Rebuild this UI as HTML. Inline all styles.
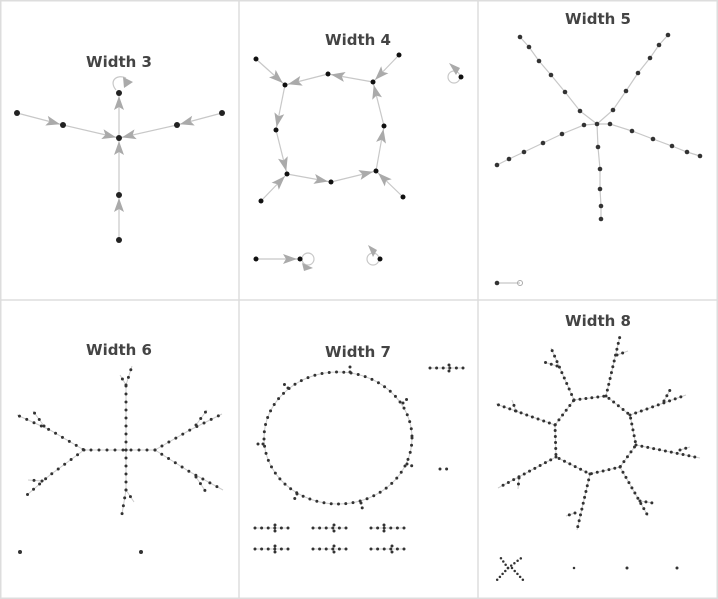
<!DOCTYPE html>
<html><head><meta charset="utf-8"><style>
html,body{margin:0;padding:0;background:#fff}
svg{display:block}
text{font-family:"DejaVu Sans","Liberation Sans",sans-serif;font-weight:bold;font-size:15px;fill:#444;text-anchor:middle}
.e{stroke:#c8c8c8;stroke-width:1.2;fill:none}
.a{stroke:#c8c8c8;stroke-width:1.2;fill:none;marker-end:url(#ar)}
.d{stroke:#333;stroke-width:3;stroke-linecap:round;stroke-dasharray:0 7;fill:none}
.l{stroke:#ccc;stroke-width:1;fill:none}
</style></head><body>
<svg width="718" height="599" viewBox="0 0 718 599" xmlns="http://www.w3.org/2000/svg">
<defs>
<marker id="ar" markerUnits="userSpaceOnUse" markerWidth="16" markerHeight="12" refX="17" refY="5" orient="auto" viewBox="0 0 16 10" overflow="visible">
<path d="M0,0 L14,5 L0,10 L3,5 Z" fill="#aaa"/>
</marker>
</defs>
<rect x="0" y="0" width="718" height="599" fill="#fff"/>
<g stroke="#ddd" stroke-width="1.5" fill="none">
<rect x="0.75" y="0.75" width="716.5" height="597.5"/>
<line x1="239" y1="0" x2="239" y2="599"/>
<line x1="478" y1="0" x2="478" y2="599"/>
<line x1="0" y1="300" x2="718" y2="300"/>
</g>

<!-- Width 3 -->
<text x="119" y="67">Width 3</text>
<line class="a" x1="17" y1="113" x2="63" y2="125"/>
<line class="a" x1="63" y1="125" x2="119" y2="138"/>
<line class="a" x1="222" y1="113" x2="177" y2="125"/>
<line class="a" x1="177" y1="125" x2="119" y2="138"/>
<line class="a" x1="119" y1="195" x2="119" y2="138"/>
<line class="a" x1="119" y1="240" x2="119" y2="195"/>
<line class="a" x1="119" y1="138" x2="119" y2="93"/>
<path class="e" d="M116,90 C108,80 118,74 126,78"/>
<path d="M123,77 L133,82 L124,88 Z" fill="#aaa"/>
<g fill="#222">
<circle cx="17" cy="113" r="3"/><circle cx="63" cy="125" r="3"/><circle cx="119" cy="138" r="3"/>
<circle cx="177" cy="125" r="3"/><circle cx="222" cy="113" r="3"/><circle cx="119" cy="93" r="3"/>
<circle cx="119" cy="195" r="3"/><circle cx="119" cy="240" r="3"/>
</g>

<!-- Width 4 -->
<text x="358" y="45">Width 4</text>
<line class="a" x1="256" y1="59" x2="285" y2="85"/>
<line class="a" x1="399" y1="55" x2="373" y2="82"/>
<line class="a" x1="403" y1="197" x2="376" y2="171"/>
<line class="a" x1="261" y1="201" x2="287" y2="174"/>
<line class="a" x1="285" y1="85" x2="276" y2="130"/>
<line class="a" x1="276" y1="130" x2="287" y2="174"/>
<line class="a" x1="287" y1="174" x2="331" y2="182"/>
<line class="a" x1="331" y1="182" x2="376" y2="171"/>
<line class="a" x1="376" y1="171" x2="384" y2="126"/>
<line class="a" x1="384" y1="126" x2="373" y2="82"/>
<line class="a" x1="373" y1="82" x2="328" y2="74"/>
<line class="a" x1="328" y1="74" x2="285" y2="85"/>
<line class="a" x1="256" y1="259" x2="300" y2="259"/>
<circle class="e" cx="454" cy="77" r="6"/>
<path d="M449,63 L460,68 L456,75 Z" fill="#aaa"/>
<circle class="e" cx="308" cy="259" r="6"/>
<path d="M302,263 L313,268 L304,271 Z" fill="#aaa"/>
<circle class="e" cx="373" cy="259" r="6"/>
<path d="M368,245 L377,250 L373,257 Z" fill="#aaa"/>
<g fill="#111">
<circle cx="256" cy="59" r="2.5"/><circle cx="285" cy="85" r="2.5"/><circle cx="328" cy="74" r="2.5"/>
<circle cx="373" cy="82" r="2.5"/><circle cx="399" cy="55" r="2.5"/><circle cx="384" cy="126" r="2.5"/>
<circle cx="376" cy="171" r="2.5"/><circle cx="403" cy="197" r="2.5"/><circle cx="331" cy="182" r="2.5"/>
<circle cx="287" cy="174" r="2.5"/><circle cx="261" cy="201" r="2.5"/><circle cx="276" cy="130" r="2.5"/>
<circle cx="461" cy="77" r="2.5"/><circle cx="256" cy="259" r="2.5"/><circle cx="300" cy="259" r="2.5"/>
<circle cx="380" cy="259" r="2.5"/>
</g>

<!-- Width 5 -->
<text x="598" y="24">Width 5</text>
<g class="e">
<polyline points="597,124 580,111 565,92 551,75 539,61 529,47 520,37"/>
<polyline points="597,124 613,110 626,91 638,73 650,58 659,45 668,35"/>
<polyline points="597,124 584,125 562,134 543,143 524,152 509,159 497,165"/>
<polyline points="597,124 610,124 632,131 653,139 672,146 687,152 700,156"/>
<polyline points="597,124 598,147 600,169 600,189 601,206 601,219"/>
<line x1="497" y1="283" x2="520" y2="283"/>
</g>
<g fill="#333">
<circle cx="580" cy="111" r="2.3"/><circle cx="565" cy="92" r="2.3"/><circle cx="551" cy="75" r="2.3"/><circle cx="539" cy="61" r="2.3"/><circle cx="529" cy="47" r="2.3"/><circle cx="520" cy="37" r="2.3"/>
<circle cx="613" cy="110" r="2.3"/><circle cx="626" cy="91" r="2.3"/><circle cx="638" cy="73" r="2.3"/><circle cx="650" cy="58" r="2.3"/><circle cx="659" cy="45" r="2.3"/><circle cx="668" cy="35" r="2.3"/>
<circle cx="584" cy="125" r="2.3"/><circle cx="562" cy="134" r="2.3"/><circle cx="543" cy="143" r="2.3"/><circle cx="524" cy="152" r="2.3"/><circle cx="509" cy="159" r="2.3"/><circle cx="497" cy="165" r="2.3"/>
<circle cx="610" cy="124" r="2.3"/><circle cx="632" cy="131" r="2.3"/><circle cx="653" cy="139" r="2.3"/><circle cx="672" cy="146" r="2.3"/><circle cx="687" cy="152" r="2.3"/><circle cx="700" cy="156" r="2.3"/>
<circle cx="597" cy="124" r="2.3"/><circle cx="598" cy="147" r="2.3"/><circle cx="600" cy="169" r="2.3"/><circle cx="600" cy="189" r="2.3"/><circle cx="601" cy="206" r="2.3"/><circle cx="601" cy="219" r="2.3"/>
<circle cx="497" cy="283" r="2.3"/>
</g>
<circle cx="520" cy="283" r="2.5" fill="none" stroke="#aaa"/>

<!-- Width 6 -->
<text x="119" y="355">Width 6</text>
<g class="l">
<polyline points="126,450 126,385 120,375"/><line x1="126" y1="385" x2="132" y2="366"/>
<polyline points="126,450 126,490 122,514"/><line x1="126" y1="490" x2="134" y2="502"/>
<polyline points="155,450 84,450 50,430 17,415"/><line x1="44" y1="426" x2="33" y2="411"/>
<polyline points="84,450 50,475 27,495"/><line x1="42" y1="481" x2="28" y2="480"/>
<polyline points="155,450 190,430 222,414"/><line x1="196" y1="425" x2="207" y2="410"/>
<polyline points="155,450 190,472 223,490"/><line x1="196" y1="477" x2="206" y2="492"/>
</g>
<g class="d" style="stroke-dasharray:0 8">
<polyline points="126,450 126,385 120,375"/><line x1="126" y1="385" x2="132" y2="366"/>
<polyline points="126,450 126,490 122,514"/><line x1="126" y1="490" x2="134" y2="502"/>
<polyline points="155,450 84,450 50,430 17,415"/><line x1="44" y1="426" x2="33" y2="411"/>
<polyline points="84,450 50,475 27,495"/><line x1="42" y1="481" x2="28" y2="480"/>
<polyline points="155,450 190,430 222,414"/><line x1="196" y1="425" x2="207" y2="410"/>
<polyline points="155,450 190,472 223,490"/><line x1="196" y1="477" x2="206" y2="492"/>
</g>
<circle cx="20" cy="552" r="2" fill="#333"/><circle cx="141" cy="552" r="2" fill="#333"/>

<!-- Width 7 -->
<text x="358" y="357">Width 7</text>
<ellipse class="l" cx="338" cy="438" rx="74" ry="66"/>
<ellipse class="d" cx="338" cy="438" rx="74" ry="66" style="stroke-dasharray:0 7.3"/>
<g class="d" style="stroke-dasharray:0 5">
<line x1="350" y1="372" x2="350" y2="365"/>
<line x1="288" y1="388" x2="282" y2="382"/>
<line x1="403" y1="403" x2="409" y2="397"/>
<line x1="263" y1="444" x2="254" y2="444"/>
<line x1="407" y1="464" x2="415" y2="467"/>
<line x1="297" y1="494" x2="293" y2="502"/>
<line x1="361" y1="503" x2="363" y2="511"/>
</g>
<g class="l">
<line x1="430" y1="368" x2="463" y2="368"/>
<line x1="255" y1="528" x2="289" y2="528"/><line x1="313" y1="528" x2="347" y2="528"/><line x1="371" y1="528" x2="405" y2="528"/>
<line x1="255" y1="549" x2="289" y2="549"/><line x1="313" y1="549" x2="347" y2="549"/><line x1="371" y1="549" x2="405" y2="549"/>
</g>
<g class="d" style="stroke-dasharray:0 6.6">
<line x1="430" y1="368" x2="463" y2="368"/>
<line x1="440" y1="469" x2="447" y2="469"/>
<line x1="255" y1="528" x2="289" y2="528"/><line x1="313" y1="528" x2="347" y2="528"/><line x1="371" y1="528" x2="405" y2="528"/>
<line x1="255" y1="549" x2="289" y2="549"/><line x1="313" y1="549" x2="347" y2="549"/><line x1="371" y1="549" x2="405" y2="549"/>
</g>
<g fill="#333">
<circle cx="449" cy="365" r="1.5"/><circle cx="449" cy="371" r="1.5"/>
<circle cx="275" cy="525" r="1.5"/><circle cx="275" cy="531" r="1.5"/><circle cx="334" cy="525" r="1.5"/><circle cx="334" cy="531" r="1.5"/><circle cx="384" cy="525" r="1.5"/><circle cx="384" cy="531" r="1.5"/>
<circle cx="275" cy="546" r="1.5"/><circle cx="275" cy="552" r="1.5"/><circle cx="334" cy="546" r="1.5"/><circle cx="334" cy="552" r="1.5"/><circle cx="392" cy="546" r="1.5"/><circle cx="392" cy="552" r="1.5"/>
</g>

<!-- Width 8 -->
<text x="598" y="326">Width 8</text>
<g class="l">
<polygon points="574,400 606,396 630,415 636,445 620,467 590,474 556,457 555,425"/>
<polyline points="574,400 551,348"/><line x1="557" y1="366" x2="544" y2="362"/>
<polyline points="606,396 620,336"/><line x1="617" y1="355" x2="628" y2="351"/>
<polyline points="630,415 686,395"/><line x1="664" y1="401" x2="670" y2="390"/>
<polyline points="636,445 700,458"/><line x1="680" y1="450" x2="690" y2="447"/>
<polyline points="620,467 648,516"/><line x1="640" y1="501" x2="653" y2="503"/>
<polyline points="590,474 577,530"/><line x1="575" y1="513" x2="566" y2="516"/>
<polyline points="556,457 498,488"/><line x1="519" y1="478" x2="518" y2="489"/>
<polyline points="555,425 496,404"/><line x1="516" y1="411" x2="512" y2="400"/>
</g>
<g class="d" style="stroke-dasharray:0 6">
<polygon points="574,400 606,396 630,415 636,445 620,467 590,474 556,457 555,425"/>
<polyline points="574,400 551,348"/><line x1="557" y1="366" x2="544" y2="362"/>
<polyline points="606,396 620,336"/><line x1="617" y1="355" x2="628" y2="351"/>
<polyline points="630,415 686,395"/><line x1="664" y1="401" x2="670" y2="390"/>
<polyline points="636,445 700,458"/><line x1="680" y1="450" x2="690" y2="447"/>
<polyline points="620,467 648,516"/><line x1="640" y1="501" x2="653" y2="503"/>
<polyline points="590,474 577,530"/><line x1="575" y1="513" x2="566" y2="516"/>
<polyline points="556,457 498,488"/><line x1="519" y1="478" x2="518" y2="489"/>
<polyline points="555,425 496,404"/><line x1="516" y1="411" x2="512" y2="400"/>
</g>
<g class="d" style="stroke-dasharray:0 4;stroke-width:2.5">
<line x1="508" y1="568" x2="500" y2="557"/><line x1="508" y1="568" x2="524" y2="556"/>
<line x1="508" y1="568" x2="497" y2="580"/><line x1="512" y1="568" x2="524" y2="581"/>
<line x1="574" y1="568" x2="578" y2="568"/>
</g>
<circle cx="627" cy="568" r="1.5" fill="#333"/><circle cx="677" cy="568" r="1.5" fill="#333"/>
</svg>
</body></html>
